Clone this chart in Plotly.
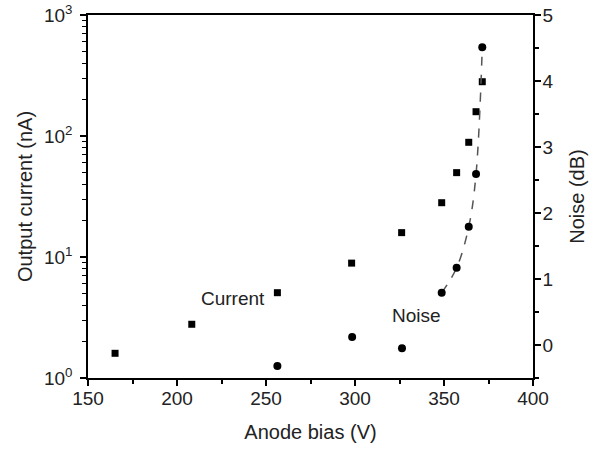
import plotly.graph_objects as go

# Data
bias_current = [165.2, 208.3, 256.4, 298.1, 326.2, 348.7, 357.1, 363.9, 368.0, 371.5]
current_nA = [1.60, 2.78, 5.07, 8.9, 15.9, 28.1, 49.8, 88.7, 158.8, 281.0]

bias_noise = [256.4, 298.4, 326.4, 348.7, 357.1, 363.9, 368.0, 371.5]
noise_dB = [-0.32, 0.12, -0.05, 0.79, 1.17, 1.79, 2.59, 4.51]

fit_bias = bias_noise[3:]
fit_noise = noise_dB[3:]

x_ticks = [150, 200, 250, 300, 350, 400]
y_ticks = [1, 10, 100, 1000]
y_ticktext = ["10<sup>0</sup>", "10<sup>1</sup>", "10<sup>2</sup>", "10<sup>3</sup>"]
y2_ticks = [0, 1, 2, 3, 4, 5]

FONT = "Liberation Sans, Arial, sans-serif"
TXT = "#222222"

fig = go.Figure()
fig.add_trace(go.Scatter(
    x=fit_bias, y=fit_noise, yaxis="y2", mode="lines",
    line=dict(color="#555555", width=1.5, dash="dash", shape="spline"),
    showlegend=False, hoverinfo="skip"))
fig.add_trace(go.Scatter(
    x=bias_current, y=current_nA, mode="markers",
    marker=dict(symbol="square", size=7, color="black"),
    showlegend=False))
fig.add_trace(go.Scatter(
    x=bias_noise, y=noise_dB, yaxis="y2", mode="markers",
    marker=dict(symbol="circle", size=8, color="black"),
    showlegend=False))

axis_common = dict(showline=True, linecolor="black", linewidth=1.5,
                   ticks="outside", tickcolor="black", tickwidth=1.5, ticklen=6,
                   showgrid=False, zeroline=False, automargin=False,
                   ticklabeloverflow="allow",
                   tickfont=dict(family=FONT, size=19, color=TXT),
                   title_font=dict(family=FONT, size=20, color=TXT))

fig.update_layout(
    width=599, height=451,
    margin=dict(l=88, r=66, t=15, b=73),
    plot_bgcolor="white", paper_bgcolor="white",
    xaxis=dict(range=[150, 400], tickvals=x_ticks, mirror=True,
               ticklabelstandoff=-4,
               title=dict(text="Anode bias (V)", standoff=17),
               minor=dict(ticks="outside", dtick=25, tickcolor="black", ticklen=4, tickwidth=1.5),
               **axis_common),
    yaxis=dict(type="log", range=[0, 3], tickvals=y_ticks, ticktext=y_ticktext,
               mirror=True, ticklabelstandoff=4,
               title=dict(text="Output current (nA)", standoff=6),
               minor=dict(ticks="outside", tickcolor="black", ticklen=4, tickwidth=1.2,
                          tickvals=[2, 3, 4, 5, 6, 7, 8, 9, 20, 30, 40, 50, 60, 70, 80, 90,
                                    200, 300, 400, 500, 600, 700, 800, 900]),
               **axis_common),
    yaxis2=dict(overlaying="y", side="right", range=[-0.5, 5], tickvals=y2_ticks,
                ticklabelstandoff=-2,
                title=dict(text="Noise (dB)", standoff=17),
                minor=dict(ticks="outside", dtick=0.5, tickcolor="black", ticklen=4, tickwidth=1.5),
                **axis_common),
    annotations=[
        dict(text="Current", x=231.3, y=0.659, xref="x", yref="y", showarrow=False,
             font=dict(family=FONT, size=19, color=TXT)),
        dict(text="Noise", x=334.7, y=0.44, xref="x", yref="y2", showarrow=False,
             font=dict(family=FONT, size=19, color=TXT)),
    ],
)

# remove the default 8px page margin so the figure fills the window exactly
fig.write_html("out.html", config={"displayModeBar": False},
               post_script="document.body.style.margin='0';document.body.style.overflow='hidden';")
